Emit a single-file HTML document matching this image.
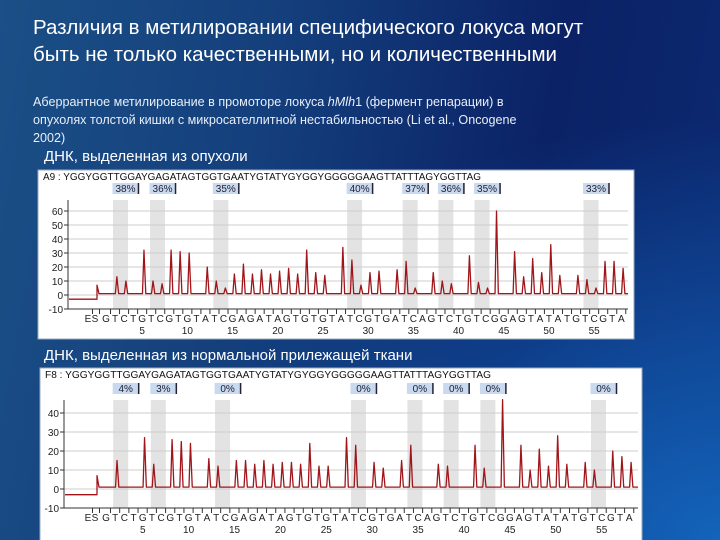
<!DOCTYPE html>
<html><head><meta charset="utf-8">
<style>
html,body{margin:0;padding:0}
body{width:720px;height:540px;overflow:hidden;position:relative;font-family:"Liberation Sans",sans-serif;
background:linear-gradient(100deg,#1b4f86 0%,#143f7c 35%,#0b2266 70%,#0c2a72 100%);}
.bg2{position:absolute;left:0;top:0;width:720px;height:540px;background:radial-gradient(ellipse at 100% 100%,rgba(20,110,200,0.85) 0%,rgba(20,110,200,0) 55%);}
.t{position:absolute;color:#fff;white-space:nowrap}
</style></head><body>
<div class="bg2"></div>
<div class="t" style="left:33px;top:14px;font-size:20.5px;line-height:27px">Различия в метилировании специфического локуса могут<br>быть не только качественными, но и количественными</div>
<div class="t" style="left:33px;top:93px;font-size:12.6px;line-height:18px;color:#e8eef8">Аберрантное метилирование в промоторе локуса <i>hMlh</i>1 (фермент репарации) в<br>опухолях толстой кишки с микросателлитной нестабильностью (Li et al., Oncogene<br>2002)</div>
<div class="t" style="left:44px;top:148px;font-size:15px">ДНК, выделенная из опухоли</div>
<div class="t" style="left:44px;top:347px;font-size:15px">ДНК, выделенная из нормальной прилежащей ткани</div>
<svg id="svg" width="720" height="540" style="position:absolute;left:0;top:0"></svg>
<script>
const letters = "GTCTGTCGTGTATCGAGATAGTGTGTATCGTGATCAGTCTGTCGGAGTATATGTCGTA".split("");
const tickNums = [5,10,15,20,25,30,35,40,45,50,55];
const bandPos = [2.6,6.7,13.7,28.5,34.65,38.6,42.6,54.65];
const pct1 = ["38%","36%","35%","40%","37%","36%","35%","33%"];
const pct2 = ["4%","3%","0%","0%","0%","0%","0%","0%"];
const vals1 = [0,13,10,0,32,10,8,32,31,30,0,20,10,5,15,22,15,18,15,17,19,15,32,16,14,0,34,25,7,16,17,0,18,24,5,0,16,10,8,0,28,9,5,60,0,31,13,26,16,36,14,0,14,11,5,24,24,19];
const vals2 = [0,15,0,0,27,13,0,26,25,24,0,16,12,0,15,15,13,15,13,14,14,13,24,12,12,0,27,23,0,14,11,0,15,23,0,0,13,12,0,0,23,11,0,47,0,23,10,21,12,28,13,0,14,10,0,20,17,14];
const yTicks1 = [-10,0,10,20,30,40,50,60];
const yTicks2 = [-10,0,10,20,30,40];
const seq1 = "A9 : YGGYGGTTGGAYGAGATAGTGGTGAATYGTATYGYGGYGGGGGAAGTTATTTAGYGGTTAG";
const seq2 = "F8 : YGGYGGTTGGAYGAGATAGTGGTGAATYGTATYGYGGYGGGGGAAGTTATTTAGYGGTTAG";

const NS="http://www.w3.org/2000/svg";
const svg=document.getElementById('svg');
function mk(tag,attrs,parent,text){const e=document.createElementNS(NS,tag);for(const k in attrs)e.setAttribute(k,attrs[k]);if(text!==undefined)e.textContent=text;(parent||svg).appendChild(e);return e;}

function drawChart(c){
  const g=mk('g',{});
  
  
  const box=mk('rect',{x:c.bx,y:c.by,width:c.bw,height:c.bh,fill:'#fff',stroke:'#9ab',"stroke-width":1},g);
  
  
  const X=p=>c.x0+(p-1)*c.step;
  const Y=v=>c.y0-v*c.k;
  const top=c.top, bot=Y(-10), right=c.right;
  // bands
  bandPos.forEach((p,i)=>{
    const r=mk('rect',{x:X(p)-7.5,y:top,width:15,height:bot-top,fill:'#e3e3e3'},g);
    
    
    const lb=mk('rect',{x:X(p)-8,y:c.py,width:26,height:11,fill:'#c9d9ef'},g);
    
    
    mk('line',{x1:X(p)+18,x2:X(p)+18,y1:c.py,y2:c.py+11,stroke:'#223',"stroke-width":1.5},g);
    const t=mk('text',{x:X(p)+5,y:c.py+9,"font-size":10,"text-anchor":"middle",fill:'#223',"font-family":"Liberation Sans, sans-serif"},g,c.pct[i]);
    
    
  });
  // grid + y ticks
  c.yt.forEach(v=>{
    if(v>-10) mk('line',{x1:c.ax,x2:right,y1:Y(v),y2:Y(v),stroke:'#ccc',"stroke-width":1},g);
    mk('line',{x1:c.ax-4,x2:c.ax,y1:Y(v),y2:Y(v),stroke:'#333'},g);
    const t=mk('text',{x:c.ax-5,y:Y(v)+4,"font-size":10,"text-anchor":"end",fill:'#222',"font-family":"Liberation Sans, sans-serif"},g,String(v));
    
    
  });
  mk('line',{x1:c.ax,x2:c.ax,y1:top,y2:bot,stroke:'#333'},g);
  mk('line',{x1:c.ax,x2:right,y1:bot,y2:bot,stroke:'#333'},g);
  // x letters
  const all=[["E",c.ex],["S",c.ex+7]];
  letters.forEach((L,i)=>all.push([L,X(i+1)]));
  all.forEach(([L,x])=>{
    mk('line',{x1:x+4.5,x2:x+4.5,y1:bot,y2:bot+5,stroke:'#333'},g);
    const t=mk('text',{x:x,y:bot+13,"font-size":10,"text-anchor":"middle",fill:'#222',"font-family":"Liberation Sans, sans-serif"},g,L);
    
    
  });
  tickNums.forEach(n=>{
    const t=mk('text',{x:X(n),y:bot+25,"font-size":10,"text-anchor":"middle",fill:'#222',"font-family":"Liberation Sans, sans-serif"},g,String(n));
    
    
  });
  const st=mk('text',{x:c.bx+5,y:c.by+10,"font-size":10,fill:'#111',"font-family":"Liberation Sans, sans-serif",textLength:c.seqW,lengthAdjust:"spacingAndGlyphs"},g,c.seq);
  
  
  // trace
  const base=1;
  let d=`M${c.ax+1},${Y(-3)} L${c.ex+9},${Y(-3)} L${c.ex+9},${Y(7)} L${c.ex+11},${Y(base)}`;
  c.vals.forEach((v,i)=>{
    const px=X(i+1+0.2);
    if(v>0){d+=` L${px-1.5},${Y(base)} L${px},${Y(v)} L${px+1.8},${Y(base)}`;}
  });
  d+=` L${right},${Y(base)}`;
  const tr=mk('path',{d:d,fill:'none',stroke:'#a0151a',"stroke-width":1.3,"stroke-linejoin":"round"},g);
  
  
}
drawChart({name:'tumor-pyrogram',bx:38,by:170,bw:596,bh:169,x0:106,step:9.04,y0:295,k:1.4,top:200,right:628,ax:68,ex:88,py:183,pct:pct1,vals:vals1,yt:yTicks1,seq:seq1,seqW:438});
drawChart({name:'normal-pyrogram',bx:40,by:368,bw:602,bh:180,x0:106,step:9.18,y0:489,k:1.9,top:400,right:638,ax:64,ex:88,py:383,pct:pct2,vals:vals2,yt:yTicks2,seq:seq2,seqW:446});
</script>
</body></html>
